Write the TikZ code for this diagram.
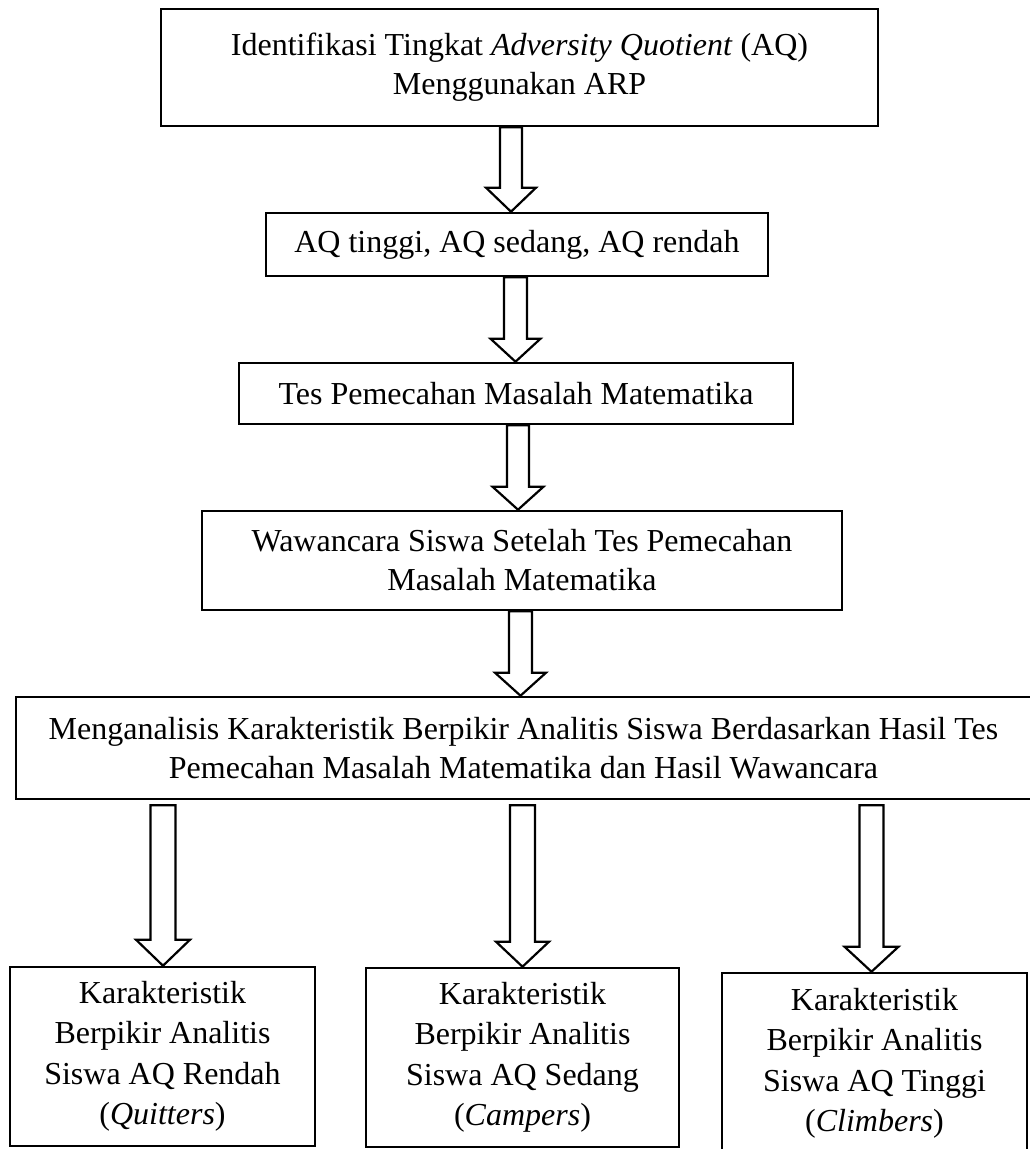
\documentclass[tikz,border=0pt]{standalone}
\usepackage{fontspec}
\setmainfont{Liberation Serif}
\usetikzlibrary{calc}
\tikzset{
  box/.style={draw, line width=2.6pt, inner sep=0pt, align=center,
    font=\fontsize{32}{39}\selectfont},
  lowbox/.style={box, font=\fontsize{32}{40.5}\selectfont},
  arrowline/.style={draw, line width=2.2pt, fill=white, line join=miter},
}
% #1 from node, #2 to node, #3 x centre, #4 gap, #5 shaft half width, #6 head half width, #7 head length
\newcommand{\hollowarrow}[7]{%
  \draw[arrowline] let \p1=(#1.south), \p2=(#2.north) in
    ({#3pt-#5pt},{\y1-#4pt}) -- ({#3pt+#5pt},{\y1-#4pt}) --
    ({#3pt+#5pt},{\y2+#7pt}) -- ({#3pt+#6pt},{\y2+#7pt}) -- (#3pt,\y2) --
    ({#3pt-#6pt},{\y2+#7pt}) -- ({#3pt-#5pt},{\y2+#7pt}) -- cycle;}
\begin{document}
\begin{tikzpicture}[x=1pt,y=-1pt]
\useasboundingbox (0,0) rectangle (1029,1149);
\fill[white] (0,0) rectangle (1029,1149);

\node[box, minimum width=717pt, minimum height=117pt] (b1) at (519.5,67.5)
  {Identifikasi Tingkat \textit{Adversity Quotient} (AQ)\\Menggunakan ARP};
\node[box, minimum width=502pt, minimum height=63pt] (b2) at (517,244.5)
  {AQ tinggi, AQ sedang, AQ rendah};
\node[box, minimum width=554pt, minimum height=61pt] (b3) at (516,393.5)
  {Tes Pemecahan Masalah Matematika};
\node[box, minimum width=640pt, minimum height=99pt] (b4) at (522,560.5)
  {Wawancara Siswa Setelah Tes Pemecahan\\Masalah Matematika};
\node[box, minimum width=1015pt, minimum height=102pt] (b5) at (523.5,748)
  {Menganalisis Karakteristik Berpikir Analitis Siswa Berdasarkan Hasil Tes\\Pemecahan Masalah Matematika dan Hasil Wawancara};
\node[lowbox, minimum width=305pt, minimum height=179pt] (b6) at (162.5,1056.5)
  {Karakteristik\\Berpikir Analitis\\Siswa AQ Rendah\\(\textit{Quitters})};
\node[lowbox, minimum width=313pt, minimum height=179pt] (b7) at (522.5,1057.5)
  {Karakteristik\\Berpikir Analitis\\Siswa AQ Sedang\\(\textit{Campers})};
\node[lowbox, minimum width=305pt, minimum height=181pt] (b8) at (874.5,1063.5)
  {Karakteristik\\Berpikir Analitis\\Siswa AQ Tinggi\\(\textit{Climbers})};

\hollowarrow{b1}{b2}{511}{0}{11}{25}{24}
\hollowarrow{b2}{b3}{515.5}{0}{11.5}{25}{23}
\hollowarrow{b3}{b4}{518}{0}{11}{25.5}{23}
\hollowarrow{b4}{b5}{520.5}{0}{11.5}{25.5}{23}
\hollowarrow{b5}{b6}{163}{5}{12.5}{27}{26}
\hollowarrow{b5}{b7}{522.5}{5}{12.5}{26.5}{25}
\hollowarrow{b5}{b8}{871.5}{5}{12}{27}{25}
\end{tikzpicture}
\end{document}
